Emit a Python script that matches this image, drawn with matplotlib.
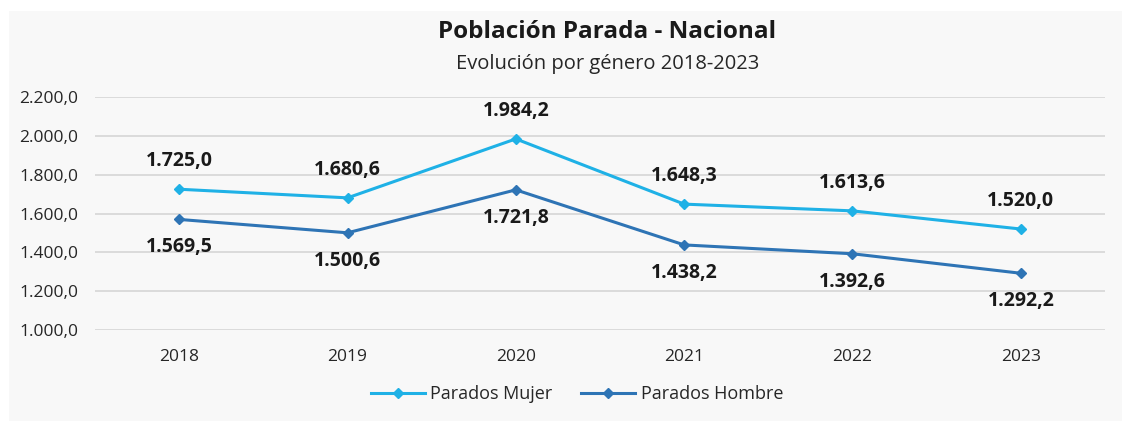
import matplotlib
matplotlib.use("Agg")
import matplotlib.pyplot as plt
from matplotlib.patches import Rectangle

years = ["2018", "2019", "2020", "2021", "2022", "2023"]
mujer = [1725.0, 1680.6, 1984.2, 1648.3, 1613.6, 1520.0]
hombre = [1569.5, 1500.6, 1721.8, 1438.2, 1392.6, 1292.2]
yticks = [1000, 1200, 1400, 1600, 1800, 2000, 2200]

def fmt(v):
    s = f"{v:,.1f}"
    return s.replace(",", "X").replace(".", ",").replace("X", ".")

plt.rcParams['font.family'] = ['Open Sans', 'DejaVu Sans']

W, H = 1122, 421
fig = plt.figure(figsize=(W/100, H/100), dpi=100, facecolor="white")
fig.patches.append(Rectangle((9/W, 0), 1 - 9/W, 1 - 11/H, transform=fig.transFigure,
                             facecolor="#f8f8f8", edgecolor="none", zorder=-10))

left, right = 95/W, 1105/W
top_y, bot_y = 97, 330
ax = fig.add_axes([left, 1 - bot_y/H, right - left, (bot_y - top_y)/H])
ax.set_facecolor("none")

x = list(range(len(years)))
c_m = "#1fb1e6"
c_h = "#2e74b5"
ax.plot(x, mujer, color=c_m, lw=2.2, marker="D", ms=5.5, label="Parados Mujer", zorder=3)
ax.plot(x, hombre, color=c_h, lw=2.2, marker="D", ms=5.5, label="Parados Hombre", zorder=3)

for i in x:
    ax.annotate(fmt(mujer[i]), (i, mujer[i]), xytext=(0, 13), textcoords="offset points",
                ha="center", va="bottom", fontsize=14, fontweight="bold", color="#1a1a1a")
    ax.annotate(fmt(hombre[i]), (i, hombre[i]), xytext=(0, -13), textcoords="offset points",
                ha="center", va="top", fontsize=14, fontweight="bold", color="#1a1a1a")

ax.set_xlim(-0.5, len(years) - 0.5)
ax.set_ylim(1000, 2200)
ax.set_yticks(yticks)
ax.set_yticklabels([fmt(v) for v in yticks], fontsize=12.5, color="#262626")
ax.set_xticks(x)
ax.set_xticklabels(years, fontsize=12.5, color="#262626")
ax.tick_params(length=0)
ax.tick_params(axis="x", pad=14)
ax.tick_params(axis="y", pad=12)
ax.grid(axis="y", color="#d6d6d6", lw=1.2)
ax.set_axisbelow(True)
for s in ax.spines.values():
    s.set_visible(False)

fig.text(607/W, 1 - 32/H, "Población Parada - Nacional", ha="center", va="center",
         fontsize=17.5, fontweight="bold", color="#1a1a1a")
fig.text(608/W, 1 - 64/H, "Evolución por género 2018-2023", ha="center", va="center",
         fontsize=14.5, color="#262626")

leg = fig.legend(loc="center", bbox_to_anchor=(577/W, 1 - 394/H), ncol=2, frameon=False,
                 fontsize=13, handlelength=3, columnspacing=1.6, handletextpad=0.3)
for t in leg.get_texts():
    t.set_color("#262626")

fig.savefig("out.png", dpi=100, facecolor=fig.get_facecolor())
